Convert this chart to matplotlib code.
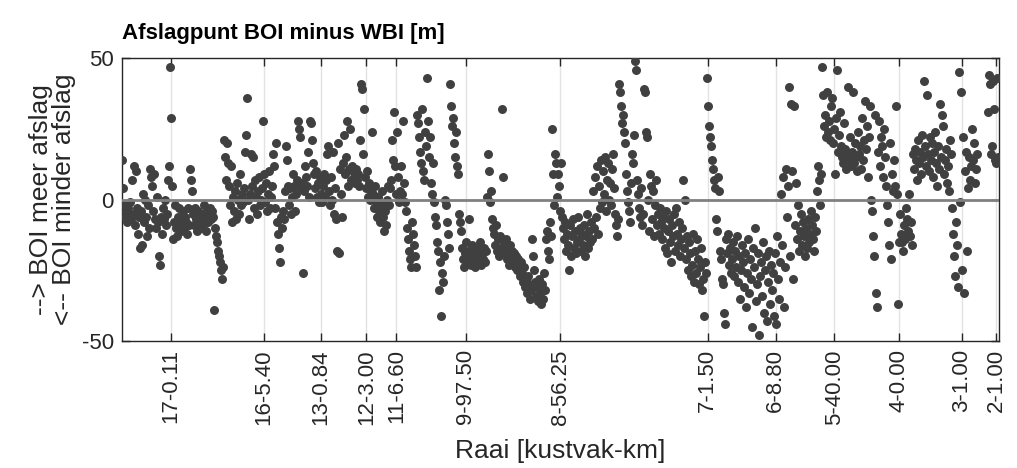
import numpy as np
import matplotlib
matplotlib.use("Agg")
import matplotlib.pyplot as plt

nan = np.nan

# verschil afslagpunt BOI - WBI per raai [m], raaien in volgorde langs de kust
blok_a = [14, 4, -2, -6, -4, -8, -3, -5, -1, -7,
          7, -5, 12, -9, 10, -3, -12, -6, -17, -4,
          -16, 2, -8, 0, -6, -13, -2, -10, 11, 8,
          5, -4, 9, -7, -10, 1, -8, -20, -23, -6,
          -12, -3, -7, 0, -9, -5, 7, 12, 47, 29,
          5, -14, -8, -2, -10, -13, -6, -3, -9, -11,
          -7, -4, -10, -6, -8, -12, -3, -9, 11, 7,
          3, -5, -9, -3, -7, -11, -4, -8, -6, -10,
          -5, -9, -2, -7, -11, -4, -8, -6, -3, -7,
          -4, -6, -39, -10, -13, -15, -18, -20, -22, -25]
blok_b = [-28, -24, 21, 15, 7, 20, 13, 5, -2, 12,
          -8, 1, -4, 3, -7, 6, 0, -5, 9, -2,
          2, -1, 4, 17, 23, 36, 0, -7, 2, 16,
          5, 15, -3, 7, 1, -5, 3, 8, -2, 0,
          4, 28, 9, -1, 6, -4, 2, 10, -3, 1,
          5, 16, 12, -3, 20, -8, -12, -17, -22, -6,
          -10, -4, -7, 3, 19, 14, 5, -2, 4, -5,
          1, 9, 5, -4, 2, 7, 28, 25, 22, 4,
          6, -26, 3, 12, 8, 5, 17, 1, 28, 27,
          21, 13, 9, 4, 10, 1, 6, -1, 8, 2]
blok_c = [-1, 5, 9, 1, 7, 16, 19, 3, -2, 8,
          0, 17, -5, 4, -7, -18, 20, -19, 11, 2,
          -6, 13, 23, 9, 15, 28, 5, 11, 25, 7,
          12, 10, 8, 6, 11, 7, 9, 5, 21, 41,
          39, 16, 32, 8, 4, 10, 1, 6, 0, 3,
          24, 2, -3, 5, -1, -6, 1, -4, -8, -2,
          3, -6, -11, -4, -9, 0, 5, -2, 4, 7,
          21, 14, 31, 12, 2, 24, 8, -1, 3, 12,
          2, 28, 6, -1, -4, -10, -14, -18, -21, -24,
          -8, -12, -16, -20, -24, 30, 27, 22, 17, 13]
blok_d = [32, 10, 7, 24, 19, 43, 28, 15, 22, 6,
          2, 13, -1, -6, -9, -15, -18, -32, -22, -41,
          -26, -29, -20, 0, -2, -8, -12, -17, 41, 33,
          26, 29, 20, 15, 24, 12, 9, -5, -8, -11,
          -17, -21, -24, -19, -15, -22, -18, -7, -20, -23,
          -16, -21, -19, -24, -17, -22, -18, -20, -15, -23,
          -19, -21, -17, -22, -18, 1, 16, 10, -1, 3,
          -7, -10, -12, -16, -9, -18, -14, -20, -13, -17,
          32, 8, -15, -19, -14, -21, -17, -23, -16, -20,
          -18, -22, -19, -24, -20, -25, -21, -23, -27, -22]
blok_e = [-26, -29, -24, -31, -28, -33, -27, -30, -35, -32,
          -14, -20, -25, -29, -34, -31, -36, -28, -33, -37,
          -30, -35, -26, -32, -14, -11, -18, -21, -8, -13,
          25, 9, -2, 16, 13, 1, 9, 5, -4, 13,
          -6, -10, -14, -8, -18, -12, -16, -25, -9, -20,
          -13, -7, -17, -11, -19, -15, -6, -14, -10, -18,
          -12, -16, -9, -20, -13, -5, -17, -11, -15, -8,
          -14, 3, -10, 8, -6, 12, -12, 5, -3, 14,
          -1, 10, 2, 15, -4, 7, 13, 0, 6, -2,
          11, 16, 4, -5, -9, -13, -7, 41, 38, 33]
blok_f = [27, 30, 24, 20, 9, 3, -1, -4, -8, 6,
          16, 13, 23, 49, 46, 7, 2, -3, -6, 4,
          -9, -5, 39, 38, 24, 22, 0, -11, 9, 5,
          -7, 3, -13, -2, 7, -9, -5, -12, -3, -8,
          -14, -6, -10, -17, -4, -19, -11, -7, -15, -22,
          -9, -13, -5, -18, -3, -12, -16, -8, -20, -14,
          -10, 7, -17, 0, -21, -13, -25, -15, -19, -27,
          -23, -12, -29, -18, -26, -14, -21, -30, -24, -17,
          -32, -28, -41, -22, -26, 43, 33, 26, 22, 19,
          14, 11, 7, 4, -7, -11, 8, 3, -18, -21]
blok_g = [-28, -30, -40, -44, -14, -19, -12, -23, -17, -26,
          -21, -15, -27, -18, -24, -13, -29, -20, -35, -25,
          -16, -22, -31, -19, -38, -26, -14, -33, -21, -28,
          -45, -17, -24, -10, -36, -30, -19, -48, -27, -22,
          -34, -15, -40, -25, -20, -43, -29, -18, -37, -23,
          -32, -26, -41, -19, -44, -13, -28, -35, -22, 2,
          -16, 8, -38, -24, 11, -6, 5, 40, -20, 34,
          10, -28, 33, -9, 6, -14, -2, -18, -11, -5,
          -16, -8, -13, -20, -10, -17, -7, -15, -12, -4,
          -9, -14, -18, -6, -11, 3, 12, 7, -2, 9]
blok_h = [47, 37, 26, 30, 22, 38, 24, 28, 21, 33,
          36, 20, 25, 9, 29, 46, 17, 23, 31, 19,
          15, 13, 27, 18, 11, 16, 40, 14, 22, 12,
          17, 38, 13, 20, 15, 10, 24, 16, 19, 11,
          29, 14, 21, 35, 18, 26, 8, 22, 33, 0,
          -4, -13, -20, 30, -33, -38, 17, 28, 12, 22,
          19, 8, 25, 15, 5, -2, -8, -16, 20, -21,
          9, 3, 14, 5, 33, 2, -37, -15, -5, -12,
          -15, -18, -9, -14, -3, -7, -11, 2, -13, -8,
          -16, 16, 11, 18, 14, 7, 21, 13, 17, 9]
blok_i = [23, 15, 42, 19, 12, 37, 16, 10, 22, 14,
          20, 8, 17, 24, 13, 5, 19, 11, 34, 15,
          30, 26, 9, 14, 18, 6, 12, 3, 21, 16,
          -3, -12, -20, -27, -8, -16, -31, 45, -1, 38,
          -25, 22, -33, 10, 17, -18, 4, 15, 7, 12,
          25, 14, 20, 6, 11, 16, nan, nan, nan, nan,
          nan, nan, nan, nan, nan, nan, 31, 44, 41, 16,
          19, 42, 32, 14, 13, 43, 15]

verschil = np.array(blok_a + blok_b + blok_c + blok_d + blok_e
                    + blok_f + blok_g + blok_h + blok_i, dtype=float)
raai = np.arange(len(verschil))

# raai-index van de gelabelde raaien
tick_pos = [48.5, 141.7, 199, 244.3, 274.3, 343.7, 438, 585.3,
            653.3, 712, 776.7, 839.7, 874]
tick_lab = ["17-0.11", "16-5.40", "13-0.84", "12-3.00", "11-6.60",
            "9-97.50", "8-56.25", "7-1.50", "6-8.80", "5-40.00",
            "4-0.00", "3-1.00", "2-1.00"]

plt.rcParams['font.family'] = ['Liberation Sans', 'DejaVu Sans']
plt.rcParams['axes.unicode_minus'] = False

fig = plt.figure(figsize=(10.17, 4.68), dpi=100)
ax = fig.add_axes([0.12, 0.2714, 0.8626, 0.604])

ax.scatter(raai, verschil, s=42, color="#404040", linewidths=0, zorder=3)
ax.axhline(0, color="#808080", lw=2.0, zorder=4)

ax.set_xlim(0, 877)
ax.set_ylim(-50, 50)
ax.set_xticks(tick_pos)
ax.set_xticklabels(tick_lab, rotation=90)
ax.set_yticks([-50, 0, 50])
ax.grid(axis="x", color="#e3e3e3", lw=1.0, zorder=0)
ax.set_axisbelow(True)

ax.tick_params(axis="both", direction="in", length=6, width=1,
               color="#262626", labelsize=16, labelcolor="#262626",
               top=True, right=True, pad=6)
for sp in ax.spines.values():
    sp.set_color("#262626")
    sp.set_linewidth(1.0)

ax.set_xlabel("Raai [kustvak-km]", fontsize=19, color="#262626", labelpad=10)
ax.set_ylabel("--> BOI meer afslag\n<-- BOI minder afslag", fontsize=19,
              color="#262626", labelpad=4, linespacing=0.95)
ax.set_title("Afslagpunt BOI minus WBI [m]", fontsize=16, fontweight="bold",
             loc="left", pad=14)

fig.savefig("out.png", dpi=100)
